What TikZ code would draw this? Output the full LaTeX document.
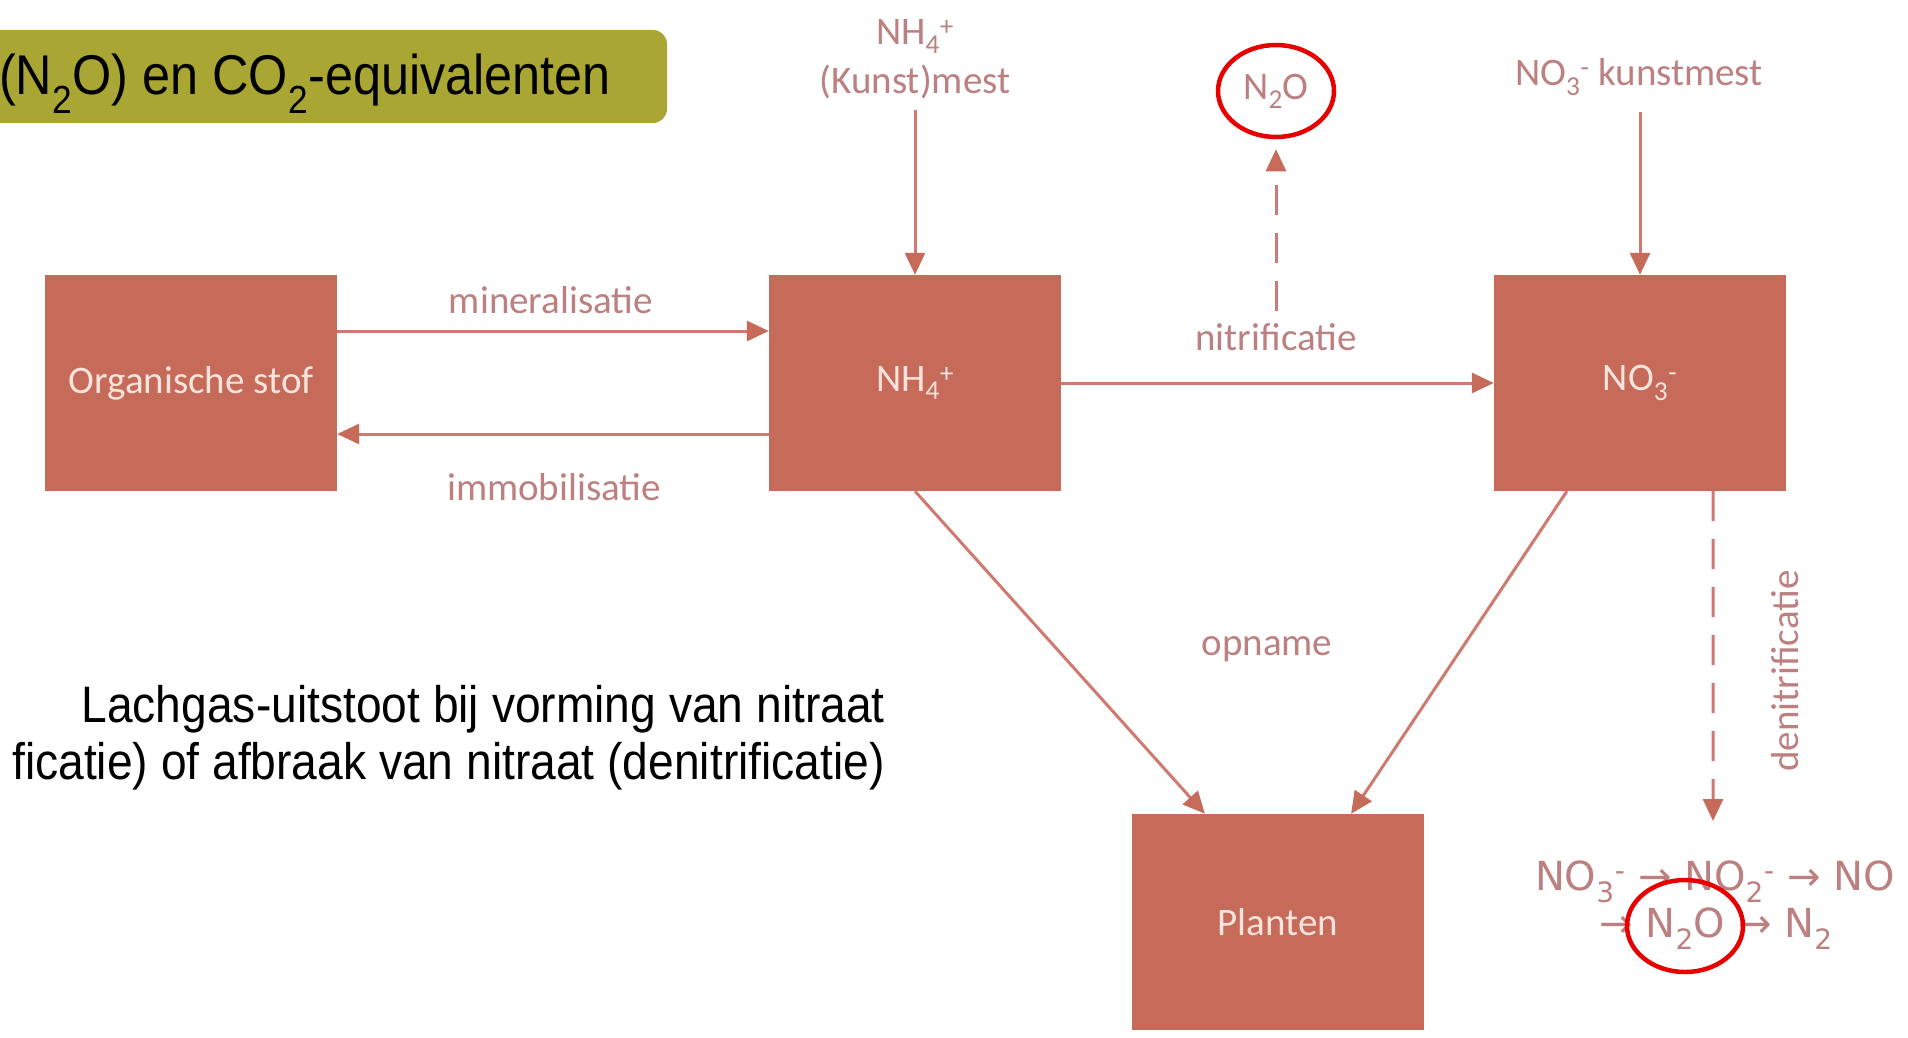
\documentclass[tikz,border=0pt]{standalone}
\usepackage{fontspec}
\setmainfont{Liberation Sans}
\newfontfamily\narrowfont[FakeStretch=0.9]{Liberation Sans}
\newfontfamily\lblfont{Carlito}
\newfontfamily\chainfont{DejaVu Sans}
\usetikzlibrary{arrows.meta,shapes.geometric,calc}
\definecolor{boxc}{RGB}{198,106,90}
\definecolor{linec}{RGB}{206,122,112}
\definecolor{lblc}{RGB}{188,128,128}
\definecolor{olivec}{RGB}{170,166,52}
\definecolor{circc}{RGB}{232,0,0}
\newcommand{\subs}[1]{\textsubscript{#1}}
\newcommand{\sups}[1]{\textsuperscript{#1}}
\newcommand{\rar}{→}
\begin{document}
\begin{tikzpicture}[x=1pt,y=-1pt,
 box/.style={fill=boxc, minimum width=292pt, minimum height=216pt, inner sep=0pt, text={rgb,255:red,250;green,228;blue,220}, font=\lblfont\fontsize{39}{47}\selectfont},
 lbl/.style={text=lblc, font=\lblfont\fontsize{39}{47}\selectfont, inner sep=0pt},
 chain/.style={text=lblc, font=\chainfont\fontsize{40}{48}\selectfont, inner sep=0pt},
 bodytext/.style={inner sep=0pt, font=\narrowfont\fontsize{51.3}{60}\selectfont},
 arr/.style={draw=linec, line width=3pt, -{Triangle[length=22pt,width=20pt,fill=boxc,color=boxc]}},
 darr/.style={arr, dash pattern=on 30pt off 18pt},
 ring/.style={draw=circc, line width=4.5pt, ellipse, minimum width=116pt, minimum height=92pt, inner sep=0pt}
]
\useasboundingbox (0,0) rectangle (1908,1038);
\clip (0,0) rectangle (1908,1038);

% title bar
\fill[olivec, rounded corners=14pt] (-40,30) rectangle (667,123);
\node[anchor=base west, inner sep=0pt, font=\narrowfont\fontsize{56}{64}\selectfont] (title) at (-1,95) {(N\subs{2}O) en CO\subs{2}-equivalenten};

% body text
\node[bodytext, anchor=base east] (t1) at (885,722) {Lachgas-uitstoot bij vorming van nitraat};
\node[bodytext, anchor=base east] (t2) at (885,779) {ficatie) of afbraak van nitraat (denitrificatie)};

% boxes
\node[box] (org) at (191,383) {Organische stof};
\node[box] (nh4) at (915,383) {NH\subs{4}\sups{+}};
\node[box] (no3) at (1640,383) {NO\subs{3}\sups{-}};
\node[box] (plant) at (1278,922) {Planten};

% labels
\node[lbl, anchor=base] (minl) at (551,313) {mineralisatie};
\node[lbl, anchor=base] (imml) at (554,500) {immobilisatie};
\node[lbl, anchor=base] (nitl) at (1276,350) {nitrificatie};
\node[lbl, anchor=base] (opnl) at (1267,655) {opname};
\node[lbl, rotate=90] (denl) at (1785,671) {denitrificatie};
\node[lbl, anchor=base] (k1) at (915,45) {NH\subs{4}\sups{+}};
\node[lbl, anchor=base] (kmest) at (915,94) {(Kunst)mest};
\node[lbl, anchor=base] (nkm) at (1639,86) {NO\subs{3}\sups{-} kunstmest};

% N2O top
\node[ring, lbl] (n2o) at (1276,91) {N\subs{2}O};

% chain
\node[chain, anchor=base] (ch1) at (1715,890) {NO\subs{3}\sups{-} \rar{} NO\subs{2}\sups{-} \rar{} NO};
\node[chain, anchor=base] (ch2) at (1716,937) {\rar{} N\subs{2}O \rar{} N\subs{2}};
\node[ring] (n2ob) at (1685,926) {};

% connectors
\coordinate (ym) at (0,331);
\coordinate (yi) at (0,434);
\coordinate (dn) at (1713,821);
\draw[arr] (org.east |- ym) -- (nh4.west |- ym);
\draw[arr] (nh4.west |- yi) -- (org.east |- yi);
\draw[arr] (nh4) -- (no3);
\draw[arr, shorten <=10pt] (kmest) -- (nh4);
\draw[arr, shorten <=16pt] (nkm.south -| no3.north) -- (no3.north);
\draw[darr, shorten <=12pt, shorten >=10pt] (nitl.north) -- (n2o.south);
\draw[arr] (nh4.south) -- ($(plant.north west)!0.25!(plant.north east)$);
\draw[arr] ($(no3.south west)!0.25!(no3.south east)$) -- ($(plant.north west)!0.75!(plant.north east)$);
\draw[darr] ($(no3.south west)!0.75!(no3.south east)$) -- (dn);
\end{tikzpicture}
\end{document}
